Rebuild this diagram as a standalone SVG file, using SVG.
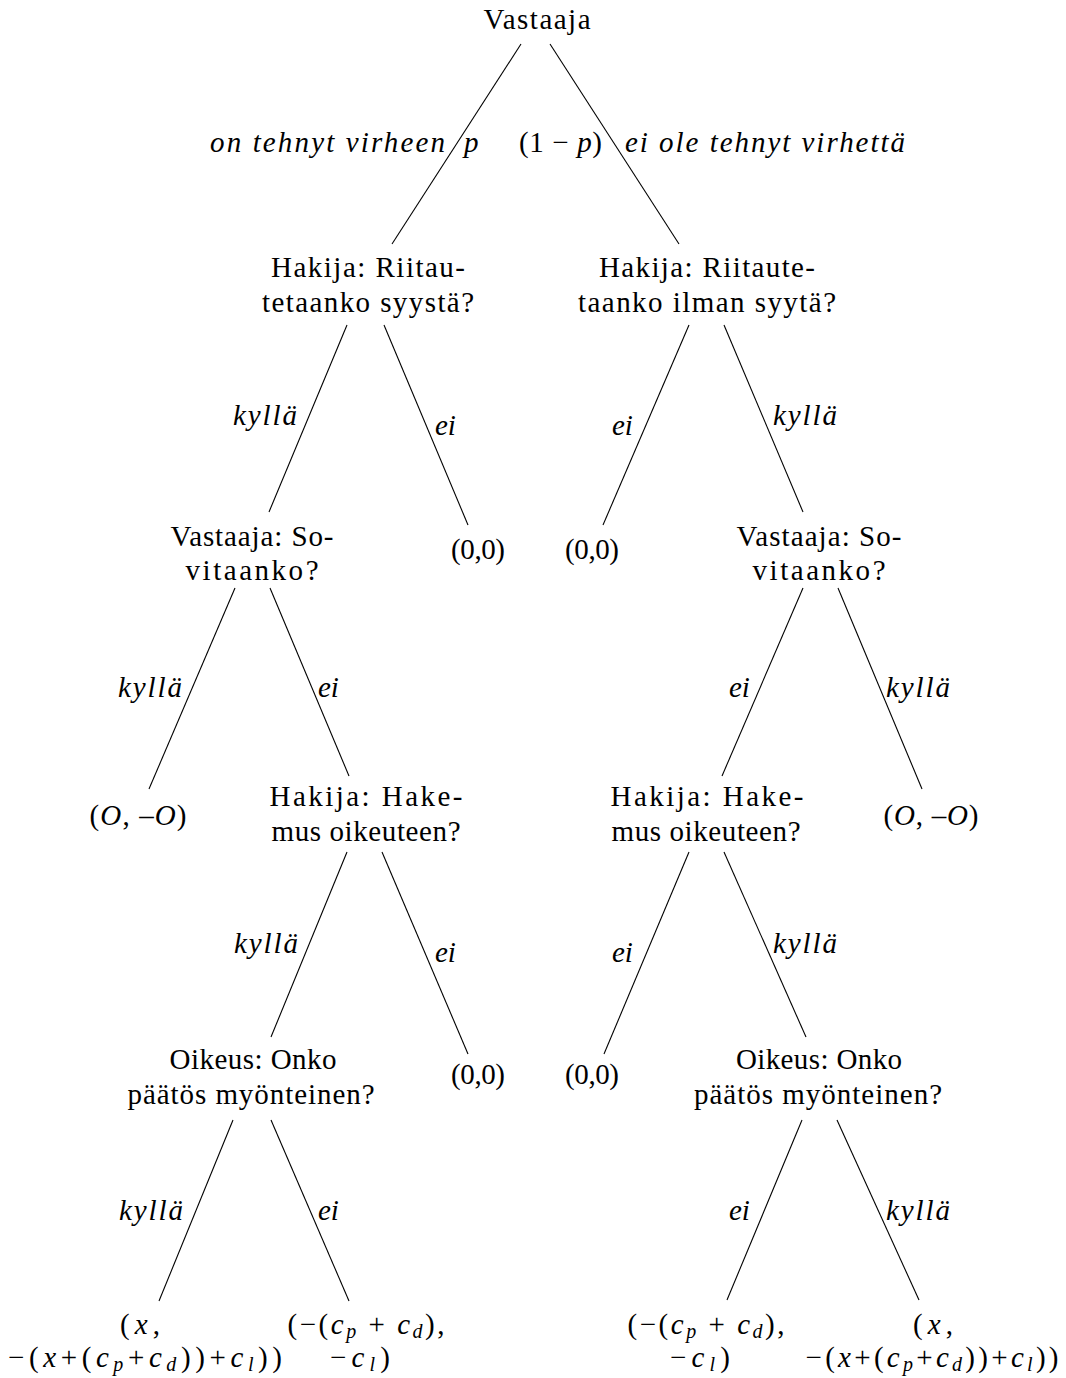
<svg xmlns="http://www.w3.org/2000/svg" width="1066" height="1378" viewBox="0 0 1066 1378">
<style>
text{font-family:"Liberation Serif","Times New Roman",serif;font-size:29px;fill:#000}
.c{text-anchor:middle}
.en{text-anchor:end}
.st{text-anchor:start}
.i{font-style:italic}
.s{font-size:20px}
.e line{stroke:#000;stroke-width:1.1}
</style>
<rect width="1066" height="1378" fill="#fff"/>
<g id="connectors" class="e">
<line x1="521" y1="44" x2="392" y2="244"/>
<line x1="550" y1="44" x2="679" y2="244"/>
<line x1="347" y1="325" x2="269" y2="512"/>
<line x1="384" y1="325" x2="468" y2="525"/>
<line x1="689" y1="325" x2="603" y2="525"/>
<line x1="724" y1="325" x2="803" y2="512"/>
<line x1="235" y1="588" x2="149" y2="789"/>
<line x1="270" y1="588" x2="349" y2="776"/>
<line x1="803" y1="588" x2="722" y2="776"/>
<line x1="838" y1="588" x2="922" y2="789"/>
<line x1="347" y1="852" x2="271" y2="1037"/>
<line x1="382" y1="852" x2="468" y2="1054"/>
<line x1="689" y1="852" x2="604" y2="1054"/>
<line x1="724" y1="852" x2="806" y2="1037"/>
<line x1="233" y1="1120" x2="159" y2="1301"/>
<line x1="271" y1="1120" x2="349" y2="1301"/>
<line x1="802" y1="1120" x2="727" y2="1300"/>
<line x1="837" y1="1120" x2="919" y2="1300"/>
</g>
<g id="edge-labels">
<text class="en i" x="445" y="152" textLength="235" lengthAdjust="spacing">on tehnyt virheen</text>
<text class="st i" x="464" y="152">p</text>
<text class="st" x="519" y="152" textLength="83" lengthAdjust="spacing">(1 − <tspan class="i">p</tspan>)</text>
<text class="st i" x="625" y="152" textLength="280" lengthAdjust="spacing">ei ole tehnyt virhettä</text>
<text class="st i" x="233" y="425" textLength="64" lengthAdjust="spacing">kyllä</text>
<text class="st i" x="435" y="435">ei</text>
<text class="st i" x="612" y="435">ei</text>
<text class="st i" x="773" y="425" textLength="64" lengthAdjust="spacing">kyllä</text>
<text class="st i" x="118" y="697" textLength="64" lengthAdjust="spacing">kyllä</text>
<text class="st i" x="318" y="697">ei</text>
<text class="st i" x="729" y="697">ei</text>
<text class="st i" x="886" y="697" textLength="64" lengthAdjust="spacing">kyllä</text>
<text class="st i" x="234" y="953" textLength="64" lengthAdjust="spacing">kyllä</text>
<text class="st i" x="435" y="962">ei</text>
<text class="st i" x="612" y="962">ei</text>
<text class="st i" x="773" y="953" textLength="64" lengthAdjust="spacing">kyllä</text>
<text class="st i" x="119" y="1220" textLength="64" lengthAdjust="spacing">kyllä</text>
<text class="st i" x="318" y="1220">ei</text>
<text class="st i" x="729" y="1220">ei</text>
<text class="st i" x="886" y="1220" textLength="64" lengthAdjust="spacing">kyllä</text>
</g>
<g id="n-root"><text class="c" x="537" y="29" textLength="107" lengthAdjust="spacing">Vastaaja</text></g>
<g id="n-hakija-syy">
<text class="c" x="368" y="277" textLength="194" lengthAdjust="spacing">Hakija: Riitau-</text>
<text class="c" x="368" y="312" textLength="212" lengthAdjust="spacing">tetaanko syystä?</text>
</g>
<g id="n-hakija-ilman">
<text class="c" x="707" y="277" textLength="216" lengthAdjust="spacing">Hakija: Riitaute-</text>
<text class="c" x="707" y="312" textLength="258" lengthAdjust="spacing">taanko ilman syytä?</text>
</g>
<g id="n-vastaaja-l">
<text class="c" x="252" y="546" textLength="163" lengthAdjust="spacing">Vastaaja: So-</text>
<text class="c" x="252" y="580" textLength="133" lengthAdjust="spacing">vitaanko?</text>
</g>
<g id="n-leaf-00-a"><text class="c" x="478" y="559" textLength="54" lengthAdjust="spacing">(0,0)</text></g>
<g id="n-leaf-00-b"><text class="c" x="592" y="559" textLength="54" lengthAdjust="spacing">(0,0)</text></g>
<g id="n-vastaaja-r">
<text class="c" x="819" y="546" textLength="165" lengthAdjust="spacing">Vastaaja: So-</text>
<text class="c" x="819" y="580" textLength="133" lengthAdjust="spacing">vitaanko?</text>
</g>
<g id="n-leaf-o-l"><text class="c" x="138" y="825" textLength="97" lengthAdjust="spacing">(<tspan class="i">O</tspan>, –<tspan class="i">O</tspan>)</text></g>
<g id="n-hakemus-l">
<text class="c" x="366" y="806" textLength="193" lengthAdjust="spacing">Hakija: Hake-</text>
<text class="c" x="366" y="841" textLength="189" lengthAdjust="spacing">mus oikeuteen?</text>
</g>
<g id="n-hakemus-r">
<text class="c" x="707" y="806" textLength="193" lengthAdjust="spacing">Hakija: Hake-</text>
<text class="c" x="706" y="841" textLength="189" lengthAdjust="spacing">mus oikeuteen?</text>
</g>
<g id="n-leaf-o-r"><text class="c" x="931" y="825" textLength="95" lengthAdjust="spacing">(<tspan class="i">O</tspan>, –<tspan class="i">O</tspan>)</text></g>
<g id="n-oikeus-l">
<text class="c" x="253" y="1069" textLength="167" lengthAdjust="spacing">Oikeus: Onko</text>
<text class="c" x="251" y="1104" textLength="247" lengthAdjust="spacing">päätös myönteinen?</text>
</g>
<g id="n-leaf-00-c"><text class="c" x="478" y="1084" textLength="54" lengthAdjust="spacing">(0,0)</text></g>
<g id="n-leaf-00-d"><text class="c" x="592" y="1084" textLength="54" lengthAdjust="spacing">(0,0)</text></g>
<g id="n-oikeus-r">
<text class="c" x="819" y="1069" textLength="166" lengthAdjust="spacing">Oikeus: Onko</text>
<text class="c" x="818" y="1104" textLength="248" lengthAdjust="spacing">päätös myönteinen?</text>
</g>
<g id="n-leaf-x-l">
<text class="c" x="140" y="1334" textLength="40" lengthAdjust="spacing">(<tspan class="i">x</tspan>,</text>
<text class="c" x="145" y="1367" textLength="274" lengthAdjust="spacing">−(<tspan class="i">x</tspan>+(<tspan class="i">c</tspan><tspan class="i s" dy="4">p</tspan><tspan dy="-4">+</tspan><tspan class="i">c</tspan><tspan class="i s" dy="4">d</tspan><tspan dy="-4">))+</tspan><tspan class="i">c</tspan><tspan class="i s" dy="4">l</tspan><tspan dy="-4">))</tspan></text>
</g>
<g id="n-leaf-c-l">
<text class="c" x="366" y="1334" textLength="157" lengthAdjust="spacing">(−(<tspan class="i">c</tspan><tspan class="i s" dy="4">p</tspan><tspan dy="-4"> + </tspan><tspan class="i">c</tspan><tspan class="i s" dy="4">d</tspan><tspan dy="-4">),</tspan></text>
<text class="c" x="360" y="1367" textLength="60" lengthAdjust="spacing">−<tspan class="i">c</tspan><tspan class="i s" dy="4">l</tspan><tspan dy="-4">)</tspan></text>
</g>
<g id="n-leaf-c-r">
<text class="c" x="706" y="1334" textLength="157" lengthAdjust="spacing">(−(<tspan class="i">c</tspan><tspan class="i s" dy="4">p</tspan><tspan dy="-4"> + </tspan><tspan class="i">c</tspan><tspan class="i s" dy="4">d</tspan><tspan dy="-4">),</tspan></text>
<text class="c" x="700" y="1367" textLength="60" lengthAdjust="spacing">−<tspan class="i">c</tspan><tspan class="i s" dy="4">l</tspan><tspan dy="-4">)</tspan></text>
</g>
<g id="n-leaf-x-r">
<text class="c" x="933" y="1334" textLength="40" lengthAdjust="spacing">(<tspan class="i">x</tspan>,</text>
<text class="c" x="932" y="1367" textLength="253" lengthAdjust="spacing">−(<tspan class="i">x</tspan>+(<tspan class="i">c</tspan><tspan class="i s" dy="4">p</tspan><tspan dy="-4">+</tspan><tspan class="i">c</tspan><tspan class="i s" dy="4">d</tspan><tspan dy="-4">))+</tspan><tspan class="i">c</tspan><tspan class="i s" dy="4">l</tspan><tspan dy="-4">))</tspan></text>
</g>
</svg>
